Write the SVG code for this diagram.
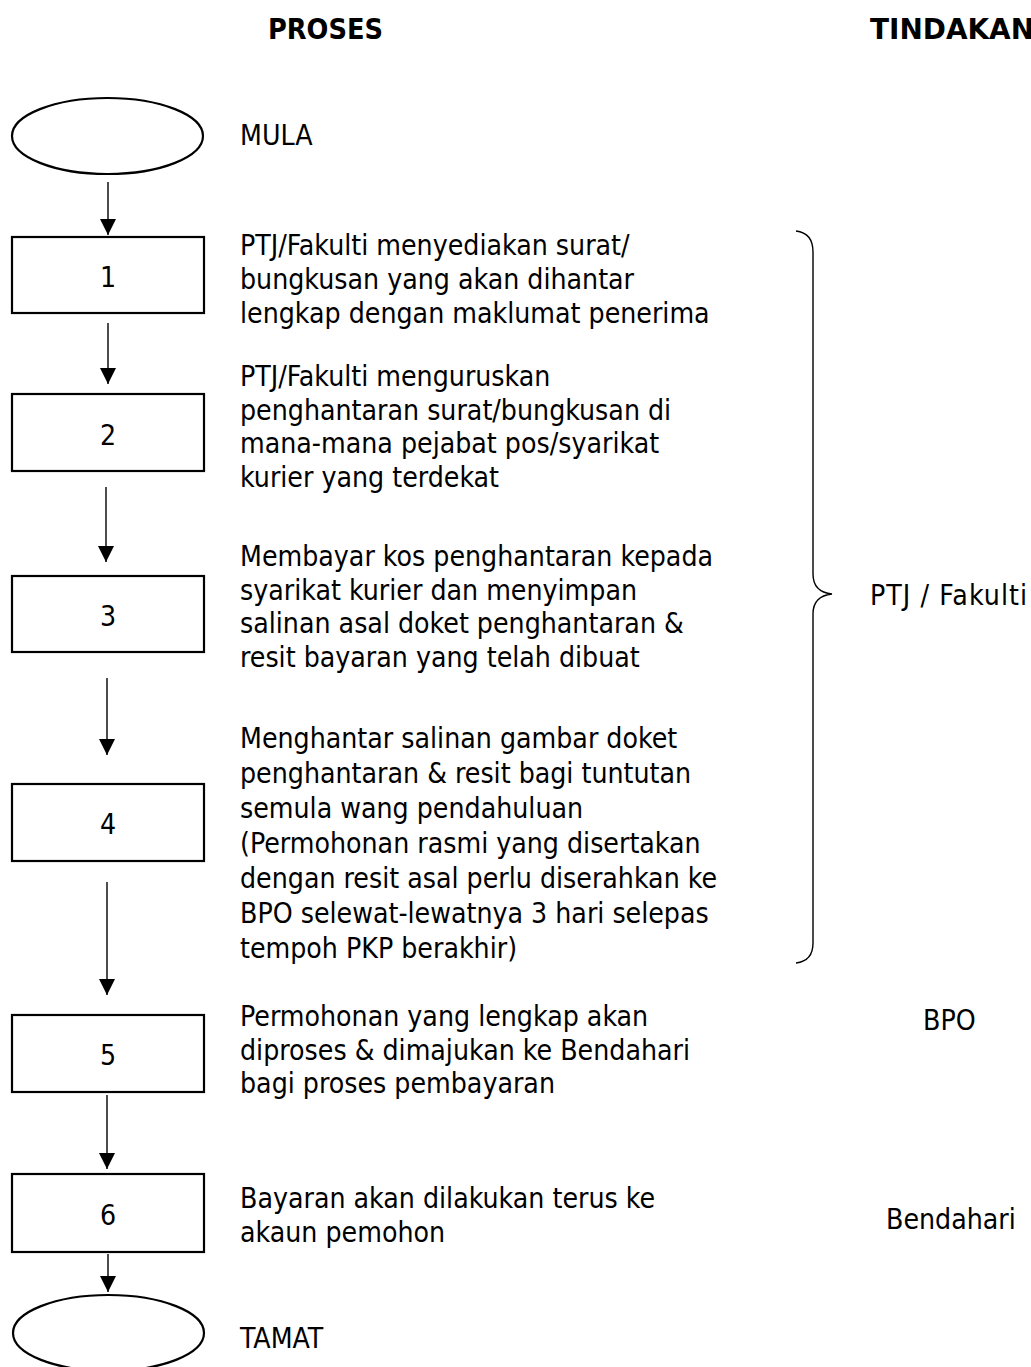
<svg xmlns="http://www.w3.org/2000/svg" width="1031" height="1367" viewBox="0 0 1031 1367">
<style>
text{font-family:"DejaVu Sans Condensed","DejaVu Sans",sans-serif;font-size:28.2px;fill:#000}
.title{font-weight:bold;font-size:28.5px}
.num{text-anchor:middle}
.box{fill:#fff;stroke:#000;stroke-width:2.2}
.term{fill:#fff;stroke:#000;stroke-width:2.2}
.conn{stroke:#000;stroke-width:1.4;fill:none}
.brace{stroke:#000;stroke-width:1.4;fill:none}
</style>
<defs>
<marker id="ah" markerUnits="userSpaceOnUse" markerWidth="16" markerHeight="16" viewBox="0 0 16 16" refX="16" refY="8" orient="auto">
<path d="M0,0 L16,8 L0,16 Z" fill="#000"/>
</marker>
</defs>
<rect width="1031" height="1367" fill="#fff"/>
<g id="headers">
<text class="title" x="268" y="39" textLength="115" lengthAdjust="spacingAndGlyphs">PROSES</text>
<text class="title" x="870" y="39" textLength="164" lengthAdjust="spacingAndGlyphs">TINDAKAN</text>
</g>
<g id="connectors">
<line class="conn" x1="108" y1="182" x2="108" y2="235" marker-end="url(#ah)"/>
<line class="conn" x1="108" y1="323" x2="108" y2="384" marker-end="url(#ah)"/>
<line class="conn" x1="106" y1="487" x2="106" y2="562" marker-end="url(#ah)"/>
<line class="conn" x1="107" y1="678" x2="107" y2="755" marker-end="url(#ah)"/>
<line class="conn" x1="107" y1="882" x2="107" y2="995" marker-end="url(#ah)"/>
<line class="conn" x1="107" y1="1095" x2="107" y2="1169" marker-end="url(#ah)"/>
<line class="conn" x1="108" y1="1254" x2="108" y2="1292" marker-end="url(#ah)"/>
</g>
<g id="start">
<ellipse class="term" cx="107.5" cy="136" rx="95.5" ry="38"/>
<text x="240" y="145">MULA</text>
</g>
<g id="step1">
<rect class="box" x="12" y="237" width="192" height="76"/>
<text class="num" x="108" y="287">1</text>
<text x="240" y="255">PTJ/Fakulti menyediakan surat/</text>
<text x="240" y="289">bungkusan yang akan dihantar</text>
<text x="240" y="323">lengkap dengan maklumat penerima</text>
</g>
<g id="step2">
<rect class="box" x="12" y="394" width="192" height="77"/>
<text class="num" x="108" y="445">2</text>
<text x="240" y="386">PTJ/Fakulti menguruskan</text>
<text x="240" y="419.5">penghantaran surat/bungkusan di</text>
<text x="240" y="453">mana-mana pejabat pos/syarikat</text>
<text x="240" y="486.5">kurier yang terdekat</text>
</g>
<g id="step3">
<rect class="box" x="12" y="576" width="192" height="76"/>
<text class="num" x="108" y="626">3</text>
<text x="240" y="566">Membayar kos penghantaran kepada</text>
<text x="240" y="599.5">syarikat kurier dan menyimpan</text>
<text x="240" y="633">salinan asal doket penghantaran &amp;</text>
<text x="240" y="666.5">resit bayaran yang telah dibuat</text>
</g>
<g id="step4">
<rect class="box" x="12" y="784" width="192" height="77"/>
<text class="num" x="108" y="834">4</text>
<text x="240" y="748">Menghantar salinan gambar doket</text>
<text x="240" y="783">penghantaran &amp; resit bagi tuntutan</text>
<text x="240" y="818">semula wang pendahuluan</text>
<text x="240" y="853">(Permohonan rasmi yang disertakan</text>
<text x="240" y="888">dengan resit asal perlu diserahkan ke</text>
<text x="240" y="923">BPO selewat-lewatnya 3 hari selepas</text>
<text x="240" y="958">tempoh PKP berakhir)</text>
</g>
<g id="step5">
<rect class="box" x="12" y="1015" width="192" height="77"/>
<text class="num" x="108" y="1065">5</text>
<text x="240" y="1026">Permohonan yang lengkap akan</text>
<text x="240" y="1059.5">diproses &amp; dimajukan ke Bendahari</text>
<text x="240" y="1093">bagi proses pembayaran</text>
</g>
<g id="step6">
<rect class="box" x="12" y="1174" width="192" height="78"/>
<text class="num" x="108" y="1225">6</text>
<text x="240" y="1208">Bayaran akan dilakukan terus ke</text>
<text x="240" y="1242">akaun pemohon</text>
</g>
<g id="end">
<ellipse class="term" cx="108.5" cy="1333" rx="95.5" ry="38"/>
<text x="240" y="1348">TAMAT</text>
</g>
<g id="actor-ptj">
<path class="brace" d="M796,231 Q813,233 813,252 L813,574 Q813,592 832,594 Q813,596 813,614 L813,943 Q813,961 796,963"/>
<text x="870" y="605" textLength="157" lengthAdjust="spacing">PTJ / Fakulti</text>
</g>
<g id="actor-bpo">
<text x="923" y="1030">BPO</text>
</g>
<g id="actor-bendahari">
<text x="886" y="1229">Bendahari</text>
</g>
</svg>
